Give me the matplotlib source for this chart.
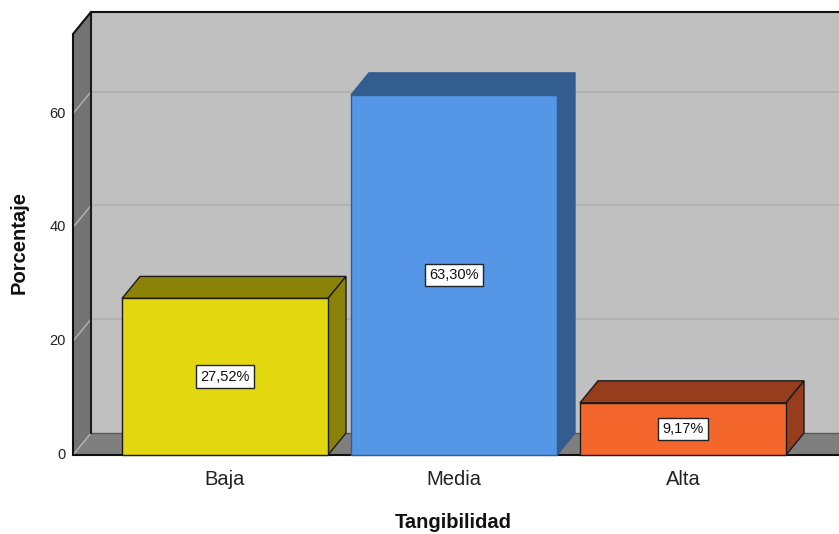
import matplotlib
matplotlib.use("Agg")
import matplotlib.pyplot as plt
from matplotlib.patches import Polygon, Rectangle

plt.rcParams["font.family"] = ["Liberation Sans", "DejaVu Sans"]

categories = ["Baja", "Media", "Alta"]
values = [27.52, 63.30, 9.17]
value_labels = ["27,52%", "63,30%", "9,17%"]
yticks = [0, 20, 40, 60]

front_colors = ["#e3d70f", "#5596e6", "#f3672d"]
dark_colors = ["#8b8208", "#335c8f", "#953d1c"]
edge_colors = ["#1a1a1a", "#335c8f", "#1a1a1a"]

W, H, DPI = 839, 534, 100
fig = plt.figure(figsize=(W / DPI, H / DPI), dpi=DPI)
# front plane in pixels
L, R, B, T = 73, 839, 455, 34
ax = fig.add_axes([L / W, 1 - B / H, (R - L) / W, (B - T) / H])
ax.set_axis_off()

ymax = 74.0
step_px = 229.0
x0 = -(225 - L) / step_px
x1 = 2 + (R - 683) / step_px
ax.set_xlim(x0, x1)
ax.set_ylim(0, ymax)

# depth offsets in data units
DX_PX, DY_PX = 18, 22
dx = DX_PX * (x1 - x0) / (R - L)
dy = DY_PX * ymax / (B - T)
xbig = x1 + 1

kw = dict(clip_on=False)
# back wall
ax.add_patch(Polygon([(x0 + dx, dy), (xbig, dy), (xbig, ymax + dy), (x0 + dx, ymax + dy)],
                     closed=True, facecolor="#c0c0c0", edgecolor="none", zorder=1, **kw))
# gridlines on back wall
for v in yticks[1:]:
    ax.plot([x0 + dx, xbig], [v + dy, v + dy], color="#afafaf", lw=1.2, zorder=2, **kw)
# floor
ax.add_patch(Polygon([(x0, 0), (xbig, 0), (xbig, dy), (x0 + dx, dy)],
                     closed=True, facecolor="#7f7f7f", edgecolor="none", zorder=3, **kw))
ax.plot([x0 + dx, xbig], [dy, dy], color="#5a5a5a", lw=1, zorder=3, **kw)
# side wall
ax.add_patch(Polygon([(x0, 0), (x0 + dx, dy), (x0 + dx, ymax + dy), (x0, ymax)],
                     closed=True, facecolor="#737373", edgecolor="none", zorder=3, **kw))
for v in yticks[1:]:
    ax.plot([x0, x0 + dx], [v, v + dy], color="#b5b5b5", lw=1, zorder=3.5, **kw)
ax.plot([x0, x0 + dx], [0, dy], color="#b5b5b5", lw=1, zorder=3.5, **kw)
# outlines
ax.plot([x0 + dx, x0 + dx], [dy, ymax + dy], color="#1a1a1a", lw=1.5, zorder=3.6, **kw)
ax.plot([x0, x0, x0 + dx, xbig], [0, ymax, ymax + dy, ymax + dy], color="#111111", lw=1.5, zorder=3.6, **kw)
ax.plot([x0, xbig], [0, 0], color="#111111", lw=1.5, zorder=3.6, **kw)

# bars
bw = 206 / step_px
for i, (v, fc, dc, ec, lab) in enumerate(zip(values, front_colors, dark_colors, edge_colors, value_labels)):
    xl, xr = i - bw / 2, i + bw / 2
    z = 5 + i
    ax.add_patch(Polygon([(xl, v), (xl + dx, v + dy), (xr + dx, v + dy), (xr, v)], closed=True,
                         facecolor=dc, edgecolor=ec, lw=1, zorder=z, **kw))
    ax.add_patch(Polygon([(xr, 0), (xr + dx, dy), (xr + dx, v + dy), (xr, v)], closed=True,
                         facecolor=dc, edgecolor=ec, lw=1, zorder=z, **kw))
    ax.add_patch(Rectangle((xl, 0), bw, v, facecolor=fc, edgecolor=ec, lw=1, zorder=z + 0.1, **kw))
    ax.text(i, v / 2, lab, ha="center", va="center", fontsize=10.5, color="#111111", zorder=z + 0.2,
            bbox=dict(boxstyle="square,pad=0.3", facecolor="white", edgecolor="#222222", lw=1))

# tick labels
px_x = (x1 - x0) / (R - L)
px_y = ymax / (B - T)
for v in yticks:
    ax.text(x0 - 7 * px_x, v, str(v), ha="right", va="center", fontsize=10.5,
            color="#222222", **kw)
for i, c in enumerate(categories):
    ax.text(i, -(485 - B) * px_y, c, ha="center", va="baseline", fontsize=14.5, color="#222222", **kw)

fig.text(453 / W, 1 - 528 / H, "Tangibilidad", ha="center", va="baseline", fontsize=14.5, fontweight="bold",
         color="#111111")
fig.text(19 / W, 1 - 242 / H, "Porcentaje", ha="center", va="center", fontsize=14.5, fontweight="bold",
         rotation=90, color="#111111")

fig.savefig("out.png", dpi=DPI)
